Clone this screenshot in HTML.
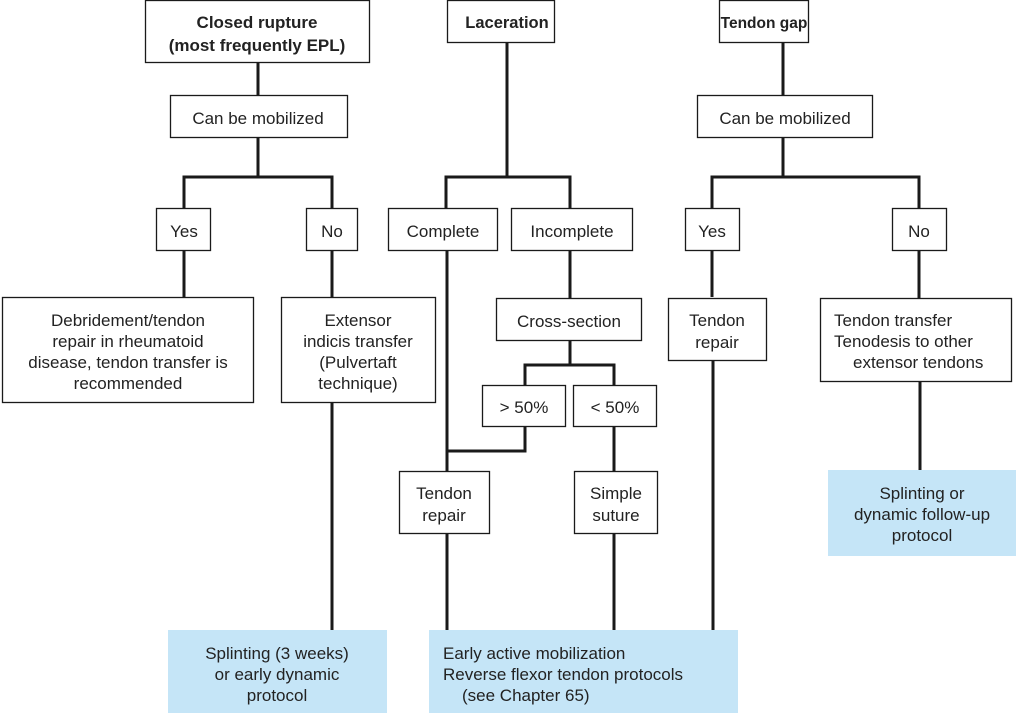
<!DOCTYPE html>
<html><head><meta charset="utf-8"><style>
html,body{margin:0;padding:0;background:#fff;}
svg{display:block;}
text{font-family:"Liberation Sans",sans-serif;font-size:17px;fill:#222;}
.b{font-weight:bold;}
</style></head><body>
<svg width="1016" height="713" viewBox="0 0 1016 713" xmlns="http://www.w3.org/2000/svg">
<g stroke="#1a1a1a" stroke-width="3" fill="none">
<line x1="258" y1="62" x2="258" y2="95"/>
<line x1="258" y1="137" x2="258" y2="177"/>
<polyline points="184,208 184,177 332,177 332,208"/>
<line x1="184" y1="250" x2="184" y2="297"/>
<line x1="332" y1="250" x2="332" y2="297"/>
<line x1="332" y1="402" x2="332" y2="630"/>
<line x1="507" y1="42" x2="507" y2="177"/>
<polyline points="446,208 446,177 570,177 570,208"/>
<line x1="570" y1="250" x2="570" y2="298"/>
<line x1="570" y1="340" x2="570" y2="365"/>
<polyline points="525,385 525,365 614,365 614,385"/>
<line x1="447" y1="250" x2="447" y2="471"/>
<polyline points="525,426 525,451 447,451"/>
<line x1="614" y1="426" x2="614" y2="471"/>
<line x1="447" y1="533" x2="447" y2="630"/>
<line x1="614" y1="533" x2="614" y2="630"/>
<line x1="783" y1="42" x2="783" y2="95"/>
<line x1="783" y1="137" x2="783" y2="177"/>
<polyline points="712,208 712,177 919,177 919,208"/>
<line x1="712" y1="250" x2="712" y2="297"/>
<line x1="919" y1="250" x2="919" y2="298"/>
<line x1="713" y1="360" x2="713" y2="630"/>
<line x1="920" y1="381" x2="920" y2="470"/>
</g>
<g stroke="#1a1a1a" stroke-width="1.3" fill="#fff">
<rect x="145.5" y="0.5" width="224" height="62"/>
<rect x="170.5" y="95.5" width="177" height="42"/>
<rect x="156.5" y="208.5" width="54" height="42"/>
<rect x="306.5" y="208.5" width="51" height="42"/>
<rect x="2.5" y="297.5" width="251" height="105"/>
<rect x="281.5" y="297.5" width="154" height="105"/>
<rect x="447.5" y="0.5" width="107" height="42"/>
<rect x="388.5" y="208.5" width="109" height="42"/>
<rect x="511.5" y="208.5" width="121" height="42"/>
<rect x="496.5" y="298.5" width="145" height="42"/>
<rect x="482.5" y="385.5" width="83" height="41"/>
<rect x="573.5" y="385.5" width="83" height="41"/>
<rect x="399.5" y="471.5" width="90" height="62"/>
<rect x="574.5" y="471.5" width="83" height="62"/>
<rect x="719.5" y="0.5" width="89" height="42"/>
<rect x="697.5" y="95.5" width="175" height="42"/>
<rect x="685.5" y="208.5" width="54" height="42"/>
<rect x="892.5" y="208.5" width="54" height="42"/>
<rect x="668.5" y="298.5" width="98" height="62"/>
<rect x="820.5" y="298.5" width="191" height="83"/>
</g>
<g fill="#c5e5f7">
<rect x="828" y="470" width="188" height="86"/>
<rect x="168" y="630" width="219" height="83"/>
<rect x="429" y="630" width="309" height="83"/>
</g>
<g text-anchor="middle">
<text class="b" x="257" y="28">Closed rupture</text>
<text class="b" x="257" y="51">(most frequently EPL)</text>
<text x="258" y="124">Can be mobilized</text>
<text x="184" y="237">Yes</text>
<text x="332" y="237">No</text>
<text x="128" y="326">Debridement/tendon</text>
<text x="128" y="347">repair in rheumatoid</text>
<text x="128" y="368">disease, tendon transfer is</text>
<text x="128" y="389">recommended</text>
<text x="358" y="326">Extensor</text>
<text x="358" y="347">indicis transfer</text>
<text x="358" y="368">(Pulvertaft</text>
<text x="358" y="389">technique)</text>
<text class="b" x="507" y="28" style="font-size:16.5px">Laceration</text>
<text x="443" y="237">Complete</text>
<text x="572" y="237">Incomplete</text>
<text x="569" y="327">Cross-section</text>
<text x="524" y="413">&gt; 50%</text>
<text x="615" y="413">&lt; 50%</text>
<text x="444" y="499">Tendon</text>
<text x="444" y="521">repair</text>
<text x="616" y="499">Simple</text>
<text x="616" y="521">suture</text>
<text class="b" x="764" y="28" style="font-size:15.5px">Tendon gap</text>
<text x="785" y="124">Can be mobilized</text>
<text x="712" y="237">Yes</text>
<text x="919" y="237">No</text>
<text x="717" y="326">Tendon</text>
<text x="717" y="348">repair</text>
<text x="922" y="499">Splinting or</text>
<text x="922" y="520">dynamic follow-up</text>
<text x="922" y="541">protocol</text>
<text x="277" y="659">Splinting (3 weeks)</text>
<text x="277" y="680">or early dynamic</text>
<text x="277" y="701">protocol</text>
</g>
<text x="834" y="326">Tendon transfer</text>
<text x="834" y="347">Tenodesis to other</text>
<text x="853" y="368">extensor tendons</text>
<text x="443" y="659">Early active mobilization</text>
<text x="443" y="680">Reverse flexor tendon protocols</text>
<text x="462" y="701">(see Chapter 65)</text>
</svg>
</body></html>
